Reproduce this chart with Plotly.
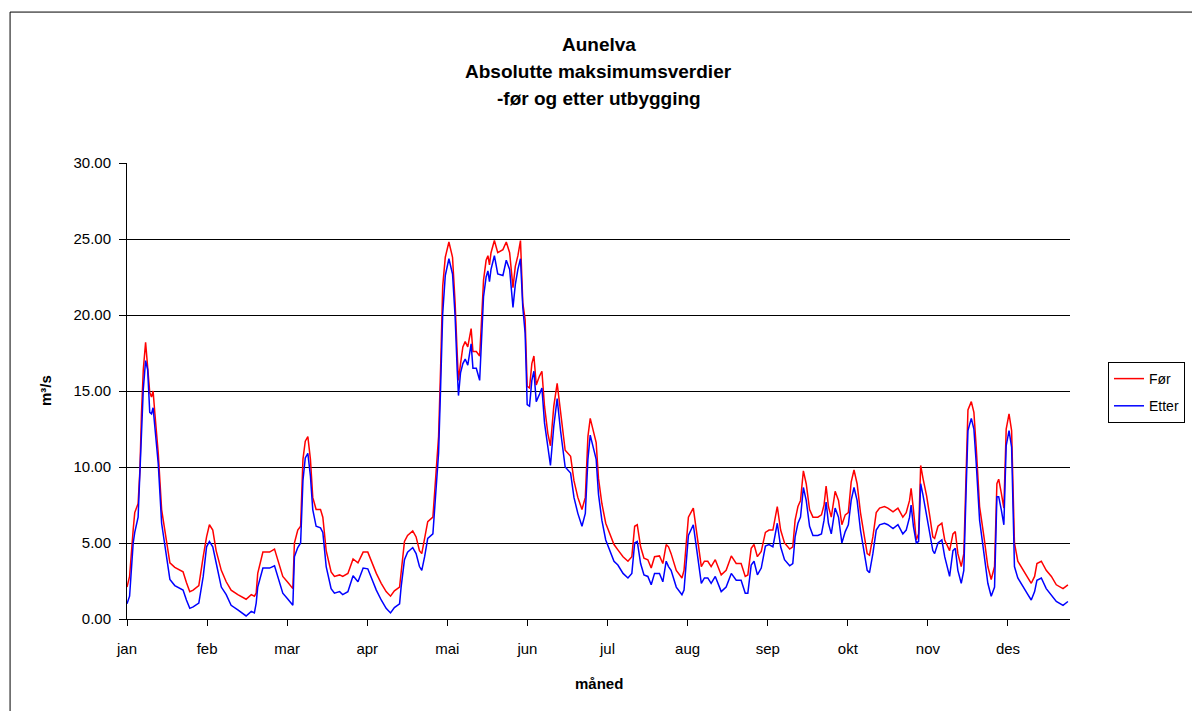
import plotly.graph_objects as go

# Day of year (0 = 1 January) at which the curves were sampled
day = [
    0.0, 1.0, 2.4, 3.0, 4.3, 5.0, 5.6, 6.3, 7.2, 8.0, 8.8, 9.5, 10.1, 10.8, 12.1, 13.4, 14.6,
    16.6, 18.5, 21.7, 23.0, 24.3, 25.6, 27.8, 29.5, 30.8, 31.9, 33.2, 34.5, 36.5, 38.4, 40.3,
    42.9, 46.1, 48.1, 49.3, 50.0, 50.6, 52.6, 55.2, 57.1, 58.4, 60.3, 62.3, 64.2, 64.8, 66.1,
    67.2, 68.1, 69.0, 70.0, 71.0, 71.9, 73.2, 74.9, 75.8, 77.1, 79.0, 80.3, 82.3, 83.5, 85.5,
    87.5, 89.4, 91.4, 93.2, 94.6, 96.5, 98.4, 100.3, 102.0, 103.5, 105.5, 106.1, 107.4, 108.6,
    110.6, 111.9, 113.2, 114.1, 115.2, 116.4, 118.4, 119.7, 120.6, 121.4, 122.2, 123.2, 124.6,
    126.0, 127.0, 127.8, 128.3, 129.1, 130.0, 130.9, 131.9, 133.2, 133.9, 135.2, 136.5, 137.1,
    138.0, 139.0, 139.7, 140.3, 140.9, 142.2, 143.5, 145.5, 146.8, 148.1, 149.4, 150.3, 151.3,
    152.3, 153.2, 154.1, 154.9, 155.8, 156.7, 157.5, 158.4, 159.7, 160.6, 161.6, 162.9, 163.9,
    165.2, 166.5, 167.8, 169.6, 171.7, 173.0, 174.5, 176.1, 177.4, 178.4, 179.3, 180.3, 181.6,
    182.5, 183.8, 185.3, 187.4, 188.5, 190.0, 192.0, 193.9, 195.4, 196.5, 197.5, 198.8, 200.1,
    201.6, 202.9, 204.2, 206.1, 207.4, 208.7, 209.6, 210.6, 212.6, 214.8, 215.6, 217.3, 219.2,
    220.6, 222.3, 223.5, 224.8, 226.1, 227.7, 230.0, 231.9, 233.9, 235.8, 237.7, 239.3, 240.3,
    241.6, 242.7, 244.0, 245.5, 247.1, 248.5, 250.0, 251.7, 253.0, 254.5, 256.5, 257.7, 258.6,
    259.7, 260.7, 261.8, 262.9, 264.2, 265.5, 267.4, 268.8, 269.8, 270.6, 271.5, 272.6, 274.1,
    275.4, 276.7, 278.0, 279.2, 280.3, 281.4, 282.6, 283.9, 285.2, 286.5, 287.4, 288.7, 290.0,
    291.3, 293.2, 294.5, 296.5, 298.4, 300.3, 301.6, 302.9, 303.5, 304.4, 305.5, 306.4, 307.2,
    308.1, 309.5, 310.7, 311.9, 312.6, 313.9, 315.4, 316.5, 318.4, 319.7, 320.6, 321.6, 322.9,
    323.9, 324.8, 325.5, 326.8, 327.8, 328.7, 330.0, 331.7, 333.2, 334.5, 335.8, 336.7, 337.4,
    338.4, 339.4, 340.3, 341.4, 342.4, 342.9, 343.5, 344.8, 346.8, 348.7, 350.0, 351.3, 352.2,
    353.9, 355.8, 357.8, 359.7, 362.3, 364.2,
]

# Maximum discharge before regulation (m3/s)
foer = [
    2.1, 2.8, 5.9, 7.0, 7.6, 9.8, 13.5, 16.4, 18.2, 16.6, 14.9, 14.6, 15.0, 13.5, 10.9, 7.2, 5.9,
    3.7, 3.4, 3.1, 2.4, 1.8, 1.9, 2.2, 4.1, 5.4, 6.2, 5.85, 4.5, 3.2, 2.45, 1.9,
    1.6, 1.3, 1.6, 1.5, 1.7, 3.0, 4.4, 4.4, 4.6, 3.9, 2.8, 2.4, 2.0, 5.0, 5.85,
    6.1, 10.5, 11.7, 12.0, 10.5, 8.0, 7.2, 7.2, 6.7, 4.5, 3.1, 2.8, 2.9, 2.8, 3.0,
    3.95, 3.7, 4.4, 4.4, 3.8, 3.0, 2.35, 1.8, 1.5, 1.85, 2.1, 3.0, 5.1, 5.5,
    5.8, 5.4, 4.5, 4.3, 5.2, 6.4, 6.7, 10.0, 12.0, 16.6, 21.9, 23.8, 24.8,
    23.8, 20.8, 17.5, 15.7, 16.8, 17.9, 18.25, 17.9, 19.1, 17.6, 17.6, 17.3, 19.2,
    22.3, 23.6, 23.9, 23.3, 24.1, 24.9, 24.1, 24.3, 24.8, 24.1, 21.8, 23.2, 23.9,
    24.9, 20.8, 19.7, 15.3, 15.2, 16.8, 17.3, 15.4, 16.0, 16.3, 14.0, 12.2, 11.4,
    14.0, 15.5, 13.8, 11.1, 10.7, 9.1, 8.0, 7.2, 8.0, 12.0, 13.2, 12.4, 11.6,
    9.25, 7.6, 6.3, 5.3, 4.9, 4.55, 4.1, 3.8, 4.1, 6.1, 6.2, 4.75, 4.0,
    3.9, 3.35, 4.1, 4.15, 3.65, 4.9, 4.75, 4.3, 3.2, 2.7, 3.2, 6.7, 7.3,
    5.6, 3.45, 3.8, 3.8, 3.45, 3.9, 2.9, 3.2, 4.15, 3.65, 3.65, 2.8, 2.9,
    4.65, 4.9, 4.1, 4.45, 5.7, 5.85, 5.85, 7.4, 5.85, 5.0, 4.6, 4.75, 6.5,
    7.4, 7.8, 9.75, 8.9, 7.2, 6.7, 6.7, 6.85, 7.5, 8.75, 7.4, 6.7, 8.4,
    7.8, 6.2, 6.85, 7.0, 9.0, 9.8, 8.9, 7.0, 5.6, 4.3, 4.2, 5.4, 7.0,
    7.3, 7.4, 7.3, 7.05, 7.3, 6.7, 7.0, 7.8, 8.6, 7.2, 5.2, 5.6, 10.1,
    9.25, 8.1, 6.8, 5.4, 5.3, 6.1, 6.3, 5.2, 4.5, 5.6, 5.75, 4.3, 3.45,
    4.3, 9.6, 13.75, 14.3, 13.6, 11.3, 7.4, 5.4, 3.45, 2.6, 3.45, 8.9, 9.2,
    8.3, 7.3, 12.5, 13.5, 12.4, 8.3, 5.0, 3.8, 3.2, 2.7, 2.35, 2.8, 3.65,
    3.8, 3.2, 2.8, 2.25, 2.0, 2.25,
]

# Maximum discharge after regulation (m3/s)
etter = [
    1.0, 1.5, 5.0, 5.7, 6.7, 9.4, 12.4, 15.1, 17.0, 16.4, 13.6, 13.5, 13.9, 12.4, 10.2, 6.3, 5.0,
    2.6, 2.2, 1.9, 1.25, 0.7, 0.8, 1.05, 2.8, 4.75, 5.1, 4.75, 3.7, 2.1, 1.6, 0.9,
    0.6, 0.2, 0.5, 0.4, 1.05, 2.1, 3.35, 3.35, 3.5, 2.8, 1.7, 1.3, 0.9, 4.1, 4.7,
    5.0, 9.1, 10.6, 10.9, 9.4, 7.2, 6.1, 6.0, 5.7, 3.45, 2.0, 1.7, 1.8, 1.6, 1.8,
    2.85, 2.45, 3.35, 3.3, 2.7, 1.9, 1.25, 0.7, 0.4, 0.75, 1.0, 2.1, 3.9, 4.4,
    4.7, 4.3, 3.45, 3.2, 4.1, 5.3, 5.6, 9.1, 10.9, 15.3, 20.1, 22.6, 23.7,
    22.7, 19.9, 16.4, 14.7, 16.2, 16.8, 17.1, 16.7, 18.1, 16.5, 16.5, 15.7, 17.9,
    21.2, 22.5, 22.9, 22.2, 23.0, 23.9, 22.7, 22.6, 23.6, 23.0, 20.5, 22.0, 23.0,
    23.7, 20.5, 18.8, 14.1, 14.0, 15.7, 16.3, 14.3, 14.8, 15.2, 12.9, 11.1, 10.1,
    12.7, 14.5, 12.4, 10.0, 9.6, 8.0, 6.95, 6.1, 6.95, 10.5, 12.1, 11.3, 10.5,
    8.2, 6.5, 5.2, 4.2, 3.8, 3.55, 3.0, 2.7, 3.0, 5.0, 5.1, 3.65, 2.9,
    2.8, 2.25, 3.0, 3.0, 2.45, 3.8, 3.45, 3.2, 2.1, 1.6, 1.9, 5.5, 6.2,
    4.55, 2.35, 2.7, 2.7, 2.35, 2.8, 1.8, 2.1, 3.0, 2.55, 2.55, 1.7, 1.7,
    3.55, 3.8, 2.9, 3.35, 4.8, 4.9, 4.75, 6.3, 4.75, 3.9, 3.5, 3.65, 5.4,
    6.3, 6.7, 8.65, 7.8, 6.1, 5.5, 5.5, 5.6, 6.5, 7.7, 6.3, 5.6, 7.3,
    6.7, 5.0, 5.75, 6.2, 7.8, 8.65, 7.8, 5.85, 4.55, 3.2, 3.05, 4.3, 5.85,
    6.2, 6.3, 6.2, 5.95, 6.2, 5.6, 5.85, 6.7, 7.5, 6.1, 5.0, 5.1, 8.9,
    8.15, 6.9, 5.8, 4.5, 4.3, 5.0, 5.2, 4.1, 2.8, 4.5, 4.65, 3.2, 2.35,
    3.2, 8.5, 12.4, 13.2, 12.5, 10.25, 6.5, 4.3, 2.35, 1.5, 2.1, 8.05, 8.05,
    7.2, 6.2, 11.4, 12.4, 11.3, 6.95, 3.45, 2.7, 2.1, 1.6, 1.25, 1.8, 2.55,
    2.7, 2.0, 1.6, 1.15, 0.9, 1.15,
]

# Month labels, one every 31 days along the axis
month_labels = ["jan", "feb", "mar", "apr", "mai", "jun", "jul", "aug", "sep", "okt", "nov", "des"]
month_days = [31 * i for i in range(len(month_labels))]

title_lines = ["Aunelva", "Absolutte maksimumsverdier", "-før og etter utbygging"]

FONT = "Liberation Sans, Arial, sans-serif"

fig = go.Figure()
fig.add_trace(go.Scatter(
    x=day, y=foer, mode="lines", name="Før", legendgroup="a",
    line=dict(color="#FF0000", width=1.5),
))
fig.add_trace(go.Scatter(
    x=day, y=etter, mode="lines", name="Etter", legendgroup="b",
    line=dict(color="#0000FF", width=1.5),
))

annotations = []
for i, line in enumerate(title_lines):
    annotations.append(dict(
        text=f"<b>{line}</b>", xref="paper", yref="paper",
        x=0.5, y=1.2588 - i * 0.0592, xanchor="center", yanchor="middle",
        showarrow=False, font=dict(family=FONT, size=19, color="black"),
    ))
annotations.append(dict(
    text="<b>måned</b>", xref="paper", yref="paper", x=0.5, y=-0.142,
    xanchor="center", yanchor="middle", showarrow=False,
    font=dict(family=FONT, size=15, color="black"),
))
annotations.append(dict(
    text="<b>m³/s</b>", xref="paper", yref="paper", x=-0.087, y=0.502,
    xanchor="center", yanchor="middle", textangle=-90, showarrow=False,
    font=dict(family=FONT, size=15, color="black"),
))

fig.update_layout(
    width=1192, height=711,
    margin=dict(l=127, r=122, t=163, b=92, autoexpand=False),
    paper_bgcolor="white", plot_bgcolor="white",
    font=dict(family=FONT, size=15, color="black"),
    annotations=annotations,
    showlegend=True,
    legend=dict(
        xref="container", yref="container",
        x=1108 / 1192, y=1 - 362 / 711, xanchor="left", yanchor="top",
        bordercolor="black", borderwidth=1, bgcolor="white",
        font=dict(family=FONT, size=14, color="black"),
        traceorder="grouped", tracegroupgap=6,
        entrywidth=60, itemwidth=30,
    ),
    shapes=[dict(
        type="rect", xref="paper", yref="paper",
        x0=-0.124, x1=1.14, y0=-0.3, y1=1.331,
        line=dict(color="black", width=1), fillcolor="rgba(0,0,0,0)", layer="below",
    )],
)

fig.update_xaxes(
    range=[0, 365], tickmode="array", tickvals=month_days, ticktext=month_labels,
    showgrid=False, zeroline=False, showline=True, linecolor="black", linewidth=1,
    ticks="outside", ticklen=6, tickcolor="black", ticklabelstandoff=10,
    tickfont=dict(family=FONT, size=15, color="black"),
)
fig.update_yaxes(
    range=[0, 30], tickmode="array", tickvals=[0, 5, 10, 15, 20, 25, 30], tickformat=".2f",
    showgrid=True, gridcolor="black", gridwidth=1, zeroline=False,
    showline=True, linecolor="black", linewidth=1,
    ticks="outside", ticklen=7, tickcolor="black", ticklabelstandoff=5,
    tickfont=dict(family=FONT, size=15, color="black"),
)

fig.write_html("out.html")
